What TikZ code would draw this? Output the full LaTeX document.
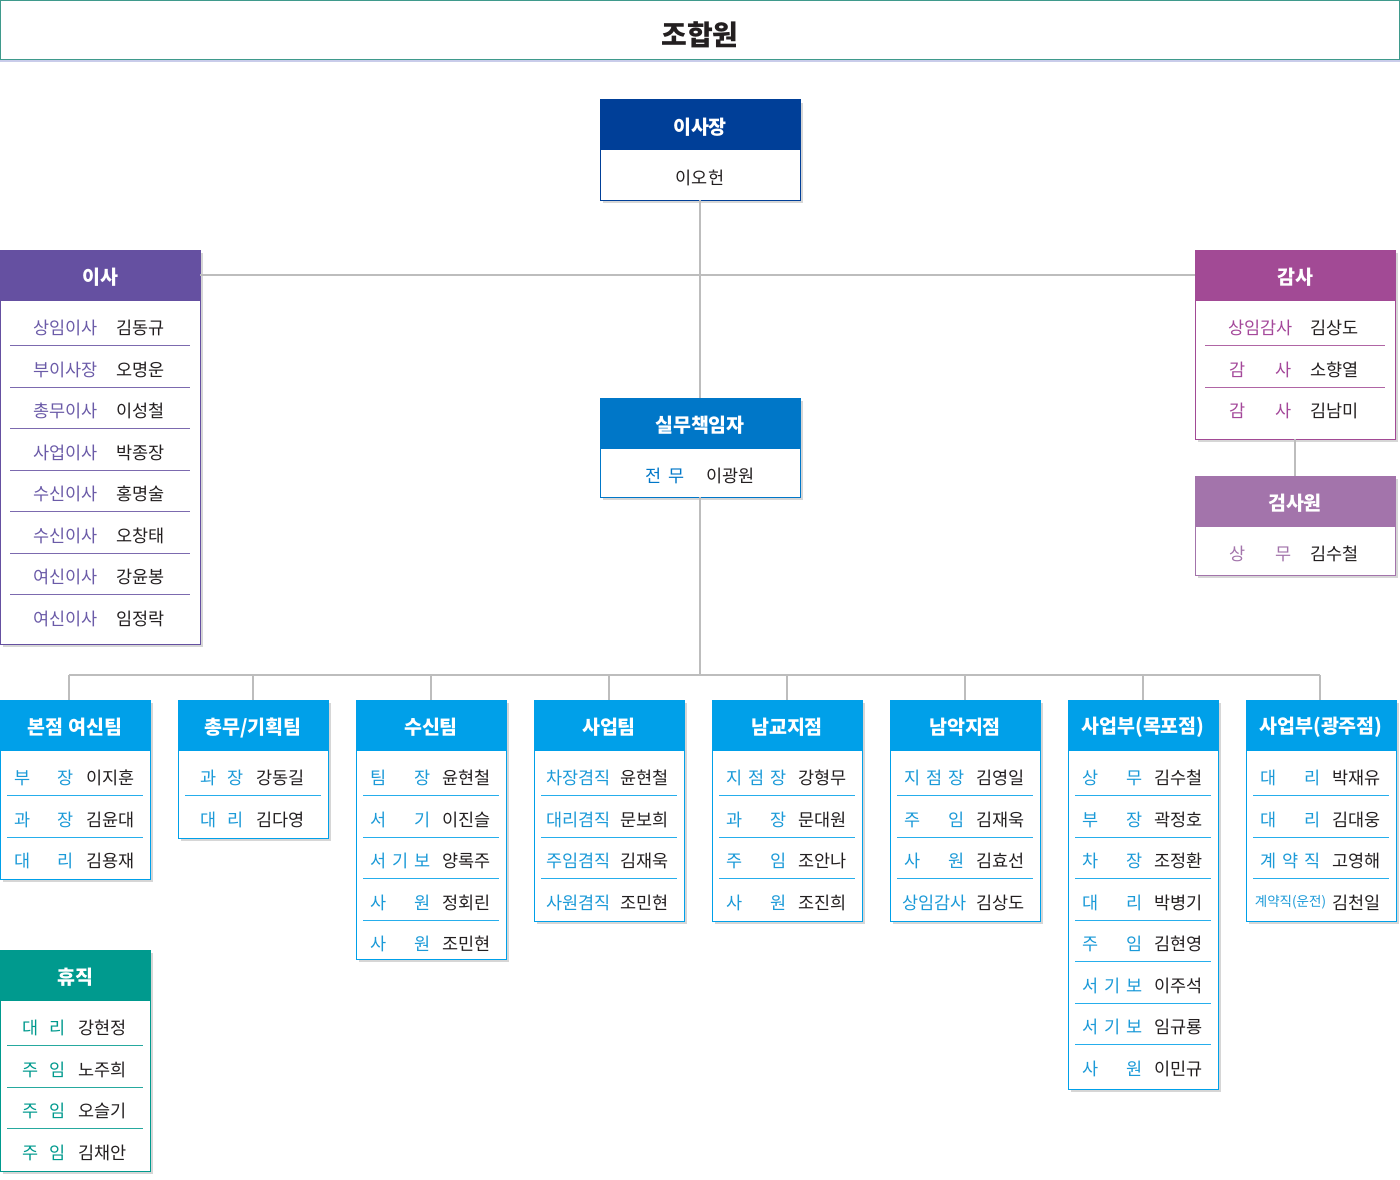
\documentclass[tikz,border=0pt]{standalone}
\usepackage{fontspec}
\setmainfont{Noto Sans CJK KR}
\usetikzlibrary{calc}
\definecolor{cTitle}{HTML}{3F9A8C}
\definecolor{cTitleSh}{HTML}{C9CCEA}
\definecolor{cBoss}{HTML}{003F98}
\definecolor{cIsa}{HTML}{6550A1}
\definecolor{cIsaL}{HTML}{6B5BA8}
\definecolor{cGam}{HTML}{A24A95}
\definecolor{cGamL}{HTML}{A4489A}
\definecolor{cGeom}{HTML}{A374AB}
\definecolor{cSil}{HTML}{0077C8}
\definecolor{cTeam}{HTML}{00A0E9}
\definecolor{cTeamL}{HTML}{1B9AD8}
\definecolor{cHyu}{HTML}{009A8E}
\definecolor{cVal}{HTML}{231F20}
\definecolor{cConn}{HTML}{BDBDBD}
\newcounter{rr}
\tikzset{
  hdr/.style={minimum height=50,inner sep=0,outer sep=0,line width=1},
  hdrtext/.style={text=white,font=\fontsize{19.5}{23}\selectfont\bfseries,inner sep=0,outer sep=0},
  bodyb/.style={fill=white,inner sep=0,outer sep=0,line width=1},
  lab/.style={font=\fontsize{17.5}{21}\selectfont,inner sep=0,outer sep=0},
  val/.style={font=\fontsize{17.5}{21}\selectfont,text=cVal,inner sep=0,outer sep=0},
  conn/.style={draw=cConn,line width=1.2},
  sepl/.style={line width=1},
}
% #1 name, #2 left, #3 top, #4 width, #5 bottom, #6 colour, #7 title
\newcommand\orgbox[7]{%
  \fill[black!16] (#2+3,#3+3) rectangle (#2+#4+3,#5+3);
  \node[hdr,fill=#6,draw=#6,minimum width=#4,anchor=north west] (#1) at (#2,#3) {};
  \node[hdrtext] (#1t) at (#2+#4/2,#3+27.5) {#7};
  \node[bodyb,draw=#6,minimum width=#4,minimum height={#5-#3-50},anchor=north west] (#1b) at (#2,#3+50) {};
}
% #1 colour, #2 label x, #3 label width, #4 y, #5 label, #6 value x, #7 value
\newcommand\rowt[7]{%
  \stepcounter{rr}%
  \node[lab,text=#1,anchor=west] (l\arabic{rr}) at (#2,#4+3) {\makebox[#3pt]{#5}};
  \node[val,anchor=west] (v\arabic{rr}) at (#6,#4+3) {#7};
}
% list box: #1 name, #2 left, #3 top, #4 bottom, #5 title, #6 hdr colour, #7 label colour, #8 rows
\newcommand\listbox[8]{%
  \orgbox{#1}{#2}{#3}{\bw}{#4}{#6}{#5}
  \foreach \lab/\val [count=\i from 0] in {#8} {
    \rowt{#7}{#2+\lx}{\lw}{#3+75+41.5*\i}{\lab}{#2+\vx}{\val}
    \ifnum\i>0 \draw[sepl,draw=#6!85] (#2+\sx,#3+54.25+41.5*\i) -- (#2+\bw-\sx,#3+54.25+41.5*\i);\fi
  }
}
\begin{document}
\begin{tikzpicture}[x=1pt,y=-1pt]
\useasboundingbox (0,0) rectangle (1400,1180);
\fill[white] (0,0) rectangle (1400,1180);
% title
\draw[cTitleSh,line width=2] (0,61) -- (1400,61);
\node[draw=cTitle,line width=1,minimum width=1399,minimum height=59,anchor=north west,outer sep=0,inner sep=0] (title) at (0.5,0.5) {};
\node[font=\fontsize{28}{32}\selectfont\bfseries,text=cVal,inner sep=0] (titlet) at (700,35) {조합원};
% boss
\orgbox{boss}{600}{100}{200}{200}{cBoss}{이사장}
\node[val] (bossv) at (700,178) {이오헌};
% 실무책임자
\orgbox{silmu}{600}{398}{200}{497}{cSil}{실무책임자}
\rowt{cSil}{645}{40}{473}{전\hfill 무}{706}{이광원}
% 이사
\def\lx{34}\def\lw{63}\def\vx{116}\def\bw{200}\def\sx{10}
\listbox{isa}{0}{250}{644}{이사}{cIsa}{cIsaL}{상임이사/김동규,부이사장/오명운,총무이사/이성철,사업이사/박종장,수신이사/홍명술,수신이사/오창태,여신이사/강윤봉,여신이사/임정락}
% 감사
\def\lx{34}\def\lw{63}\def\vx{115}\def\bw{200}\def\sx{10}
\listbox{gamsa}{1195}{250}{439}{감사}{cGam}{cGamL}{상임감사/김상도,감\hfill 사/소향열,감\hfill 사/김남미}
% 검사원
\listbox{geomsa}{1195}{476}{575}{검사원}{cGeom}{cGeom}{상\hfill 무/김수철}
% teams
\def\bw{150}\def\sx{7}
\def\lx{14}\def\lw{60}\def\vx{86}
\listbox{t1}{0}{700}{879}{본점 여신팀}{cTeam}{cTeamL}{부\hfill 장/이지훈,과\hfill 장/김윤대,대\hfill 리/김용재}
\def\lx{22}\def\lw{44}\def\vx{78}
\listbox{t2}{178}{700}{838}{총무/기획팀}{cTeam}{cTeamL}{과\hfill 장/강동길,대\hfill 리/김다영}
\def\lx{14}\def\lw{61}\def\vx{86}
\listbox{t3}{356}{700}{959}{수신팀}{cTeam}{cTeamL}{팀\hfill 장/윤현철,서\hfill 기/이진슬,서\hfill 기\hfill 보/양록주,사\hfill 원/정회린,사\hfill 원/조민현}
\listbox{t4}{534}{700}{921}{사업팀}{cTeam}{cTeamL}{차장겸직/윤현철,대리겸직/문보희,주임겸직/김재욱,사원겸직/조민현}
\listbox{t5}{712}{700}{921}{남교지점}{cTeam}{cTeamL}{지\hfill 점\hfill 장/강형무,과\hfill 장/문대원,주\hfill 임/조안나,사\hfill 원/조진희}
\listbox{t6}{890}{700}{921}{남악지점}{cTeam}{cTeamL}{지\hfill 점\hfill 장/김영일,주\hfill 임/김재욱,사\hfill 원/김효선,상임감사/김상도}
\listbox{t7}{1068}{700}{1089}{사업부(목포점)}{cTeam}{cTeamL}{상\hfill 무/김수철,부\hfill 장/곽정호,차\hfill 장/조정환,대\hfill 리/박병기,주\hfill 임/김현영,서\hfill 기\hfill 보/이주석,서\hfill 기\hfill 보/임규룡,사\hfill 원/이민규}
\listbox{t8}{1246}{700}{921}{사업부(광주점)}{cTeam}{cTeamL}{대\hfill 리/박재유,대\hfill 리/김대웅,계\hfill 약\hfill 직/고영해,{\fontsize{13.5}{16}\selectfont 계약직(운전)}/김천일}
% 휴직
\def\lx{22}\def\lw{44}\def\vx{78}
\listbox{hyu}{0}{950}{1171}{휴직}{cHyu}{cHyu}{대\hfill 리/강현정,주\hfill 임/노주희,주\hfill 임/오슬기,주\hfill 임/김채안}
% connectors
\coordinate (busL) at (69,675);
\coordinate (busR) at (1320,675);
\coordinate (busM) at (700,675);
\draw[conn] (bossb.south) -- (silmu.north);
\draw[conn] (isa.east) -- (gamsa.west);
\draw[conn] (gamsab.south) -- (geomsa.north);
\draw[conn] (silmub.south) -- (busM);
\draw[conn] (busL) -- (busR);
\draw[conn] (busL) -- (busL |- t1.north);
\foreach \n in {t2,t3,t4,t5,t6,t7} \draw[conn] (\n.north) -- (\n.north |- busL);
\draw[conn] (busR) -- (busR |- t8.north);
\end{tikzpicture}
\end{document}
